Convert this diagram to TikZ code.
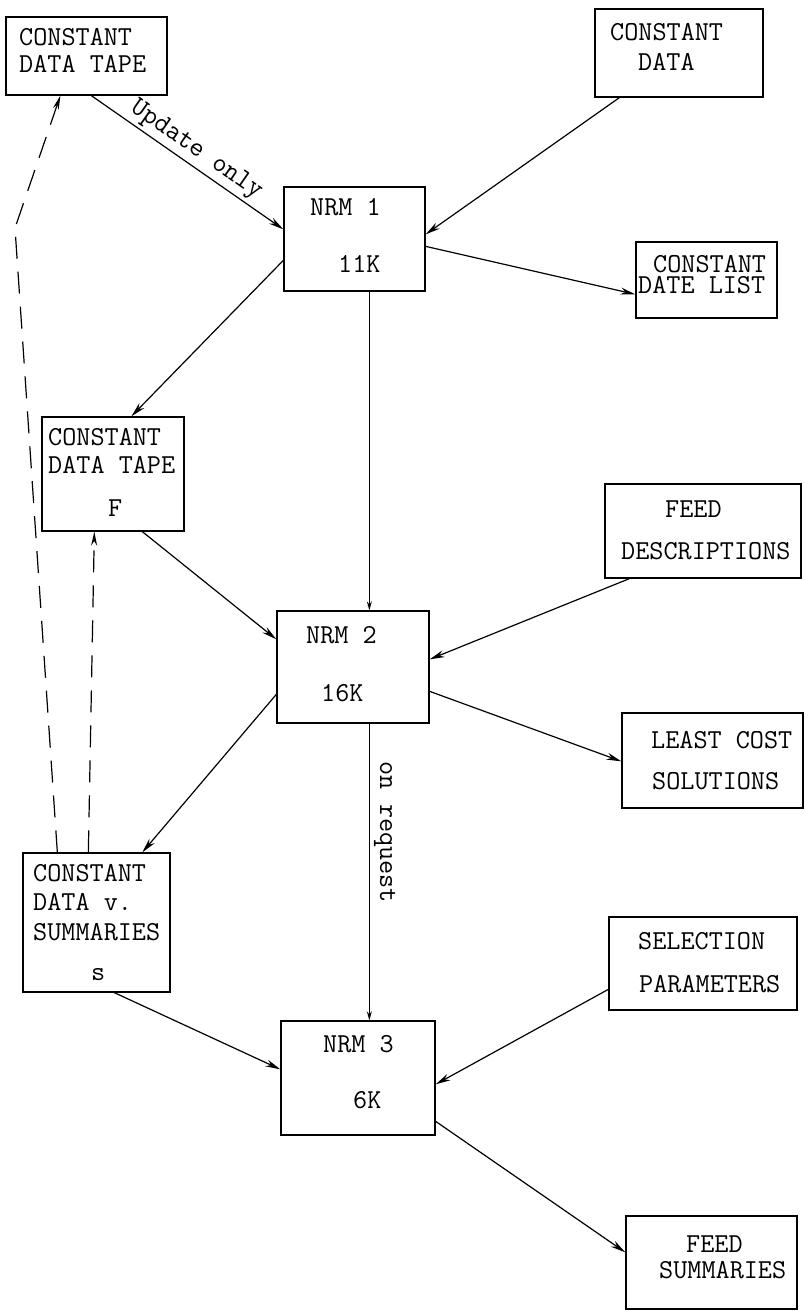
\documentclass[tikz,border=0pt]{standalone}
\usetikzlibrary{arrows.meta,calc}
\begin{document}
\begin{tikzpicture}[x=1pt,y=-1pt,
  box/.style={draw=black,line width=1.3pt,inner sep=0pt,rectangle},
  txt/.style={inner sep=0pt,anchor=base west,font=\fontsize{27.4}{30}\selectfont\ttfamily},
  lbl/.style={inner sep=3pt,font=\fontsize{27.4}{30}\selectfont\ttfamily},
  conn/.style={line width=1.2pt,-{Stealth[length=15pt,width=7pt]}},
  vconn/.style={line width=1.2pt,-{Stealth[length=9pt,width=5pt]}},
  dconn/.style={line width=1.2pt,dash pattern=on 22pt off 13pt,-{Stealth[length=14pt,width=6pt]}}]
\useasboundingbox (0,0) rectangle (805,1312);

% boxes
\node[box,minimum width=161,minimum height=78] (cdt) at (86.5,56) {};
\node[box,minimum width=168,minimum height=88] (cd) at (679,53) {};
\node[box,minimum width=141,minimum height=104] (nrm1) at (354.5,239) {};
\node[box,minimum width=141,minimum height=76] (cdl) at (706.5,280) {};
\node[box,minimum width=142,minimum height=114] (cdtf) at (113,474) {};
\node[box,minimum width=196,minimum height=94] (fd) at (703,531) {};
\node[box,minimum width=152,minimum height=112] (nrm2) at (353,667) {};
\node[box,minimum width=181,minimum height=95] (lcs) at (712.5,760.5) {};
\node[box,minimum width=147,minimum height=139] (cdvs) at (96.5,922.5) {};
\node[box,minimum width=188,minimum height=93] (sp) at (703,963.5) {};
\node[box,minimum width=154,minimum height=114] (nrm3) at (358,1078) {};
\node[box,minimum width=171,minimum height=93] (fs) at (711.5,1262.5) {};

% texts
\node[txt] (cdt1) at (19,45) {CONSTANT};
\node[txt] (cdt2) at (19,72) {DATA TAPE};
\node[txt] (cd1) at (610,40) {CONSTANT};
\node[txt] (cd2) at (638,70) {DATA};
\node[txt] (nrm1a) at (310,215) {NRM 1};
\node[txt] (nrm1b) at (338,272) {11K};
\node[txt] (cdl1) at (653,272) {CONSTANT};
\node[txt] (cdl2) at (638,293) {DATE LIST};
\node[txt] (cdtf1) at (48,445) {CONSTANT};
\node[txt] (cdtf2) at (48,473) {DATA TAPE};
\node[txt] (cdtf3) at (108,516) {F};
\node[txt] (fd1) at (665,517) {FEED};
\node[txt] (fd2) at (621,559) {DESCRIPTIONS};
\node[txt] (nrm2a) at (306,643) {NRM 2};
\node[txt] (nrm2b) at (321,701) {16K};
\node[txt] (lcs1) at (651,748) {LEAST COST};
\node[txt] (lcs2) at (652,789) {SOLUTIONS};
\node[txt] (cdvs1) at (33,881) {CONSTANT};
\node[txt] (cdvs2) at (33,910) {DATA v.};
\node[txt] (cdvs3) at (33,940) {SUMMARIES};
\node[txt] (cdvs4) at (91,980) {s};
\node[txt] (sp1) at (638,949) {SELECTION};
\node[txt] (sp2) at (639,992) {PARAMETERS};
\node[txt] (nrm3a) at (323,1052) {NRM 3};
\node[txt] (nrm3b) at (353,1108) {6K};
\node[txt] (fs1) at (686,1252) {FEED};
\node[txt] (fs2) at (659,1278) {SUMMARIES};

% connectors
\draw[conn] ([xshift=86pt]cdt.south west) -- node[lbl,midway,sloped,above] (upd) {Update only} ([yshift=-43pt]nrm1.north west);
\draw[conn] ([xshift=25pt]cd.south west) -- ([yshift=-48pt]nrm1.north east);
\draw[conn] ([yshift=-60pt]nrm1.north east) -- ([yshift=-53pt]cdl.north west);
\draw[conn] ([yshift=-74pt]nrm1.north west) -- ([xshift=90pt]cdtf.north west);
\coordinate (v1) at ([xshift=86pt]nrm1.south west);
\draw[vconn] (v1) -- (v1 |- nrm2.north);
\draw[conn] ([xshift=101pt]cdtf.south west) -- ([yshift=-29pt]nrm2.north west);
\draw[conn] ([xshift=25pt]fd.south west) -- ([yshift=-49pt]nrm2.north east);
\draw[conn] ([yshift=-81pt]nrm2.north east) -- ([yshift=-49pt]lcs.north west);
\draw[conn] ([yshift=-84pt]nrm2.north west) -- ([xshift=120pt]cdvs.north west);
\coordinate (v2) at ([xshift=93pt]nrm2.south west);
\draw[vconn] (v2) -- node[lbl,pos=0.366,rotate=-90,anchor=south,inner sep=4pt] (onreq) {on request} (v2 |- nrm3.north);
\draw[conn] ([xshift=92pt]cdvs.south west) -- ([yshift=-49pt]nrm3.north west);
\draw[conn] ([yshift=-73pt]sp.north west) -- ([yshift=-64pt]nrm3.north east);
\draw[conn] ([yshift=-101pt]nrm3.north east) -- ([yshift=-37pt]fs.north west);

% dashed feedback
\coordinate (bend) at (15,228);
\draw[dconn] ([xshift=35pt]cdvs.north west) -- (bend) -- ([xshift=55pt]cdt.south west);
\draw[dconn] ([xshift=66pt]cdvs.north west) -- ([xshift=53pt]cdtf.south west);
\end{tikzpicture}
\end{document}
